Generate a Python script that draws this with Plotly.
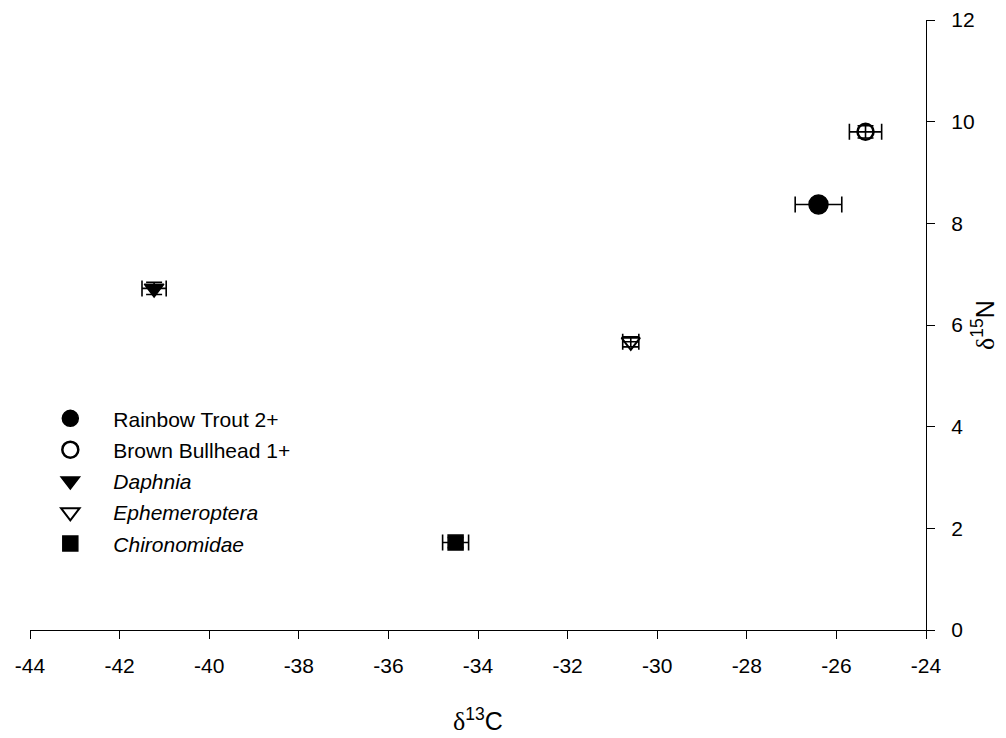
import plotly.graph_objects as go

# Stable-isotope biplot: mean δ13C vs δ15N with ±SE bars for each taxon
taxa = ["Rainbow Trout 2+", "Brown Bullhead 1+", "<i>Daphnia</i>", "<i>Ephemeroptera</i>", "<i>Chironomidae</i>"]
d13c = [-26.40, -25.35, -41.23, -30.59, -34.50]
d13c_se = [0.52, 0.36, 0.27, 0.18, 0.29]
d15n = [8.37, 9.80, 6.72, 5.67, 1.72]
d15n_se = [0.10, 0.12, 0.12, 0.10, 0.10]

x_ticks = list(range(-44, -23, 2))
x_ticklabels = ["-44", "-42", "-40", "-38", "-36", "-34", "-32", "-30", "-28", "-26", "-24"]
y_ticks = list(range(0, 13, 2))
y_ticklabels = ["0", "2", "4", "6", "8", "10", "12"]

symbols = ["circle", "circle-open", "triangle-down", "triangle-down-open", "square"]
sizes = [19, 16, 17, 16, 15]
line_w = [1.5, 2.5, 1.5, 2.0, 1.5]

FONT = "Liberation Sans, Arial, sans-serif"
DELTA = '<span style="font-family:Liberation Serif;font-size:26px">δ</span>'

fig = go.Figure()
for i, name in enumerate(taxa):
    fig.add_trace(go.Scatter(
        x=[d13c[i]], y=[d15n[i]],
        mode="markers",
        name=name,
        legendgroup=f"g{i}",
        marker=dict(symbol=symbols[i], size=sizes[i], color="black",
                    line=dict(color="black", width=line_w[i])),
        error_x=dict(type="data", array=[d13c_se[i]], color="black", thickness=1.6, width=8),
        error_y=dict(type="data", array=[d15n_se[i]], color="black", thickness=1.6, width=8),
    ))

fig.update_layout(
    width=1006, height=738,
    margin=dict(l=30, r=80, t=20, b=108, autoexpand=False),
    paper_bgcolor="white", plot_bgcolor="white",
    font=dict(family=FONT, size=21, color="black"),
    showlegend=True,
    legend=dict(x=-0.003, y=0.38, xanchor="left", yanchor="top",
                font=dict(size=21), itemwidth=76,
                traceorder="grouped", tracegroupgap=1,
                bgcolor="rgba(0,0,0,0)"),
    xaxis=dict(
        range=[-44, -24], tickmode="array", tickvals=x_ticks, ticktext=x_ticklabels,
        automargin=False,
        showline=True, linecolor="black", linewidth=1.3,
        ticks="outside", ticklen=8, tickwidth=1.3, tickcolor="black",
        ticklabelstandoff=9,
        showgrid=False, zeroline=False,
        title=dict(text=DELTA + '<sup>13</sup>C', font=dict(size=25), standoff=36),
    ),
    yaxis=dict(
        range=[0, 12], tickmode="array", tickvals=y_ticks, ticktext=y_ticklabels,
        side="right", automargin=False,
        showline=True, linecolor="black", linewidth=1.3,
        ticks="outside", ticklen=8, tickwidth=1.3, tickcolor="black",
        ticklabelstandoff=12,
        showgrid=False, zeroline=False,
        title=dict(text=DELTA + '<sup>15</sup>N', font=dict(size=25), standoff=2),
    ),
)

fig.write_html("out.html")
